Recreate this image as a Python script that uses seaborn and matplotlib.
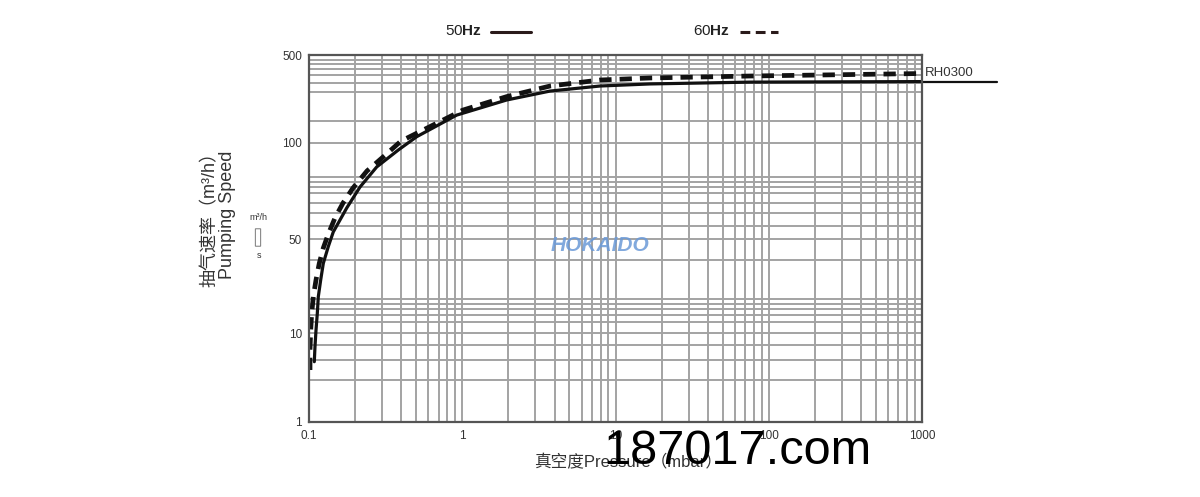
import numpy as np
import pandas as pd
import seaborn as sns
import matplotlib
matplotlib.use("Agg")
import matplotlib.pyplot as plt
from matplotlib.lines import Line2D
from matplotlib.patches import FancyBboxPatch

# pressure (mbar) / pumping speed (m3/h)
p_50hz = [0.1083, 0.1094, 0.1111, 0.1133, 0.115, 0.1192, 0.124, 0.1336, 0.144,
          0.1762, 0.2152, 0.2766, 0.3826, 0.5046, 0.92, 1.95,
          3.74, 7.92, 16.8, 75.5, 1000]
s_50hz = [4.76, 7.0, 10.5, 14.0, 18.6, 24.8, 33, 43.9, 52.6,
          62.5, 72.7, 84.0, 94.9, 111.7, 166, 219,
          258, 283, 294, 304, 307]
p_60hz = [0.1015, 0.1015, 0.1026, 0.1041, 0.1067, 0.1111, 0.1167, 0.124, 0.1336,
          0.1478, 0.1667, 0.1937, 0.239, 0.304, 0.3983, 0.5546, 1.01,
          1.95, 3.74, 7.92, 16.8, 75.5, 1000]
s_60hz = [3.84, 6.44, 10.5, 14.0, 18.6, 24.8, 33, 42.9, 51.8,
          58.2, 64.8, 72.2, 81.6, 90.2, 103, 126, 182,
          233, 283, 316, 328, 340, 356]

x_ticks = [0.1, 1, 10, 100, 1000]
x_labels = ["0.1", "1", "10", "100", "1000"]
y_ticks = [1, 10, 50, 100, 500]
y_labels = ["1", "10", "50", "100", "500"]
# extra horizontal grid lines as drawn in the original
y_minor = [3, 5, 7.3, 12, 13.5, 15, 16.5, 18, 35, 55, 60.5, 65, 69.5, 72.5,
           75.5, 78, 150, 255, 300, 345, 385, 425, 455]

# the chart spaces its y labels evenly, not on a true log scale
anchor_v = np.log10([1, 10, 50, 100, 500])
anchor_f = np.array([0.0, 0.2425, 0.4986, 0.761, 1.0])


def fwd(v):
    v = np.clip(np.asarray(v, dtype=float), 1e-6, None)
    return np.interp(np.log10(v), anchor_v, anchor_f, left=-1, right=2)


def inv(f):
    return 10 ** np.interp(np.asarray(f, dtype=float), anchor_f, anchor_v)


sns.set_theme(style="white")
plt.rcParams["font.family"] = ["Liberation Sans", "Noto Sans CJK SC", "DejaVu Sans"]
plt.rcParams["mathtext.fontset"] = "custom"
plt.rcParams["mathtext.rm"] = "Liberation Sans"
plt.rcParams["mathtext.bf"] = "Liberation Sans:bold"

fig = plt.figure(figsize=(12, 4.97), dpi=100)
ax = fig.add_axes([309 / 1200, 75 / 497, 613 / 1200, 367 / 497])

ax.set_xscale("log")
ax.set_yscale("function", functions=(fwd, inv))
ax.set_xlim(0.1, 1000)
ax.set_ylim(1, 500)

df50 = pd.DataFrame({"p": p_50hz, "s": s_50hz})
df60 = pd.DataFrame({"p": p_60hz, "s": s_60hz})
sns.lineplot(data=df50, x="p", y="s", ax=ax, color="#111111", lw=2.3,
             estimator=None, sort=False)
sns.lineplot(data=df60, x="p", y="s", ax=ax, color="#111111", lw=3.4,
             estimator=None, sort=False, linestyle=(0, (2.6, 1.7)))

ax.set_xticks(x_ticks)
ax.set_xticklabels(x_labels)
ax.xaxis.set_minor_locator(matplotlib.ticker.LogLocator(base=10, subs=np.arange(2, 10)))
ax.xaxis.set_minor_formatter(matplotlib.ticker.NullFormatter())
ax.set_yticks(y_ticks)
ax.set_yticklabels(y_labels)
ax.set_yticks(y_minor, minor=True)
ax.yaxis.set_minor_formatter(matplotlib.ticker.NullFormatter())

ax.grid(which="both", color="#a3a3a3", lw=1.4)
ax.set_axisbelow(True)
ax.tick_params(which="both", length=0, labelsize=8.5, labelcolor="#333333")
ax.tick_params(axis="x", pad=6)
ax.tick_params(axis="y", pad=5)
for sp in ax.spines.values():
    sp.set_color("#555555")
    sp.set_linewidth(1.6)
ax.set_xlabel("")
ax.set_ylabel("")

# model label with underline continuing the 50Hz curve
ax.plot([1000, 3090], [s_50hz[-1], s_50hz[-1]], color="#111111", lw=1.6,
        clip_on=False)
ax.text(1050, s_50hz[-1] * 1.04, "RH0300", fontsize=9.5, color="#333333",
        va="bottom", ha="left", clip_on=False)

# legend-like header
fig.text(445 / 1200, 1 - 31 / 497, "50$\\mathbf{Hz}$", fontsize=11,
         color="#222222", va="center", ha="left")
fig.add_artist(Line2D([491 / 1200, 531 / 1200], [1 - 32 / 497] * 2,
                      color="#2a1a1a", lw=2.2))
fig.text(693 / 1200, 1 - 31 / 497, "60$\\mathbf{Hz}$", fontsize=11,
         color="#222222", va="center", ha="left")
fig.add_artist(Line2D([740 / 1200, 778 / 1200], [1 - 32 / 497] * 2,
                      color="#2a1a1a", lw=2.2, linestyle=(0, (3.2, 1.8))))

# axis titles
fig.text(219 / 1200, 1 - 215 / 497, "抽气速率（m³/h）\nPumping Speed",
         rotation=90, ha="center", va="center", fontsize=13,
         color="#333333", linespacing=1.0, multialignment="center")
fig.text(258 / 1200, 1 - 217 / 497, "m³/h", fontsize=6.5, color="#333333",
         ha="center", va="center")
fig.add_artist(FancyBboxPatch((256 / 1200, 1 - 246 / 497), 4 / 1200, 17 / 497,
                              boxstyle="round,pad=0.0005", fc="white",
                              ec="#888888", lw=0.8, transform=fig.transFigure))
fig.text(259 / 1200, 1 - 255 / 497, "s", fontsize=6.5, color="#333333",
         ha="center", va="center")
fig.text(628 / 1200, 1 - 462 / 497, "真空度Pressure（mbar）", fontsize=12,
         color="#333333", ha="center", va="center")

# watermarks
ax.text(0.475, 0.48, "HOKAIDO", transform=ax.transAxes, fontsize=15,
        fontweight="bold", fontstyle="italic", color="#6b9ad8", alpha=0.85,
        ha="center", va="center")
fig.text(737 / 1200, 1 - 451 / 497, "187017.com", fontsize=35,
         color="#000000", ha="center", va="center")

fig.savefig("out.png", dpi=100)
